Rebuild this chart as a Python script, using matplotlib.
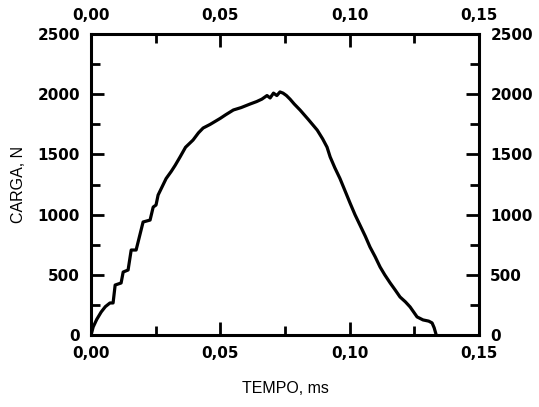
import matplotlib.pyplot as plt
from matplotlib.ticker import MultipleLocator, FuncFormatter

# curva carga x tempo
tempo = [0.0, 0.0008, 0.0022, 0.0039, 0.0055, 0.0073, 0.0085, 0.0093, 0.0116, 0.0124,
         0.0143, 0.0155, 0.0174, 0.0201, 0.0228, 0.024, 0.0251, 0.0259, 0.029, 0.031,
         0.0325, 0.0344, 0.0365, 0.0394, 0.0415, 0.0433, 0.046, 0.0499, 0.052, 0.055,
         0.058, 0.0615, 0.064, 0.066, 0.068, 0.0692, 0.0705, 0.0718, 0.073, 0.0742,
         0.0755, 0.0769, 0.0785, 0.0808, 0.084, 0.0874, 0.0895, 0.0912, 0.0924, 0.0942,
         0.0962, 0.0985, 0.1001, 0.102, 0.104, 0.106, 0.1078, 0.1098, 0.1117, 0.1135,
         0.1156, 0.1175, 0.1194, 0.1215, 0.1233, 0.126, 0.1283, 0.1305, 0.1318, 0.1326,
         0.1334]
carga = [0, 66, 130, 191, 235, 266, 266, 415, 432, 523, 540, 706, 706, 939, 955, 1063,
         1080, 1163, 1300, 1360, 1410, 1480, 1560, 1620, 1680, 1720, 1750, 1800, 1830,
         1870, 1890, 1920, 1940, 1960, 1990, 1970, 2010, 1990, 2020, 2010, 1990, 1960,
         1920, 1869, 1790, 1703, 1630, 1561, 1480, 1390, 1300, 1180, 1096, 1000, 910, 820,
         731, 650, 565, 500, 432, 375, 316, 275, 233, 150, 125, 115, 100, 60, 0]

plt.figure(figsize=(5.39, 4.07), dpi=100)
ax = plt.gca()
ax.plot(tempo, carga, color='black', lw=2.3)

ax.set_xlim(0, 0.15)
ax.set_ylim(0, 2500)
ax.xaxis.set_major_locator(MultipleLocator(0.05))
ax.xaxis.set_minor_locator(MultipleLocator(0.025))
ax.yaxis.set_major_locator(MultipleLocator(500))
ax.yaxis.set_minor_locator(MultipleLocator(250))
ax.xaxis.set_major_formatter(FuncFormatter(lambda v, p: f"{v:.2f}".replace('.', ',')))

ax.tick_params(which='both', direction='in', top=True, right=True,
               labeltop=True, labelright=True, width=2, pad=8)
ax.tick_params(which='major', length=9.5, labelsize=11)
ax.tick_params(which='minor', length=6.5)
for lab in ax.xaxis.get_ticklabels(which='major') + ax.yaxis.get_ticklabels(which='major'):
    lab.set_fontweight('bold')
for s in ax.spines.values():
    s.set_linewidth(2.2)

ax.set_xlabel('TEMPO, ms', fontsize=11.5, family='Liberation Sans', labelpad=14)
ax.set_ylabel('CARGA, N', fontsize=11.5, family='Liberation Sans', labelpad=8)

plt.subplots_adjust(left=0.169, right=0.889, bottom=0.177, top=0.916)
plt.savefig('out.png', dpi=100)
